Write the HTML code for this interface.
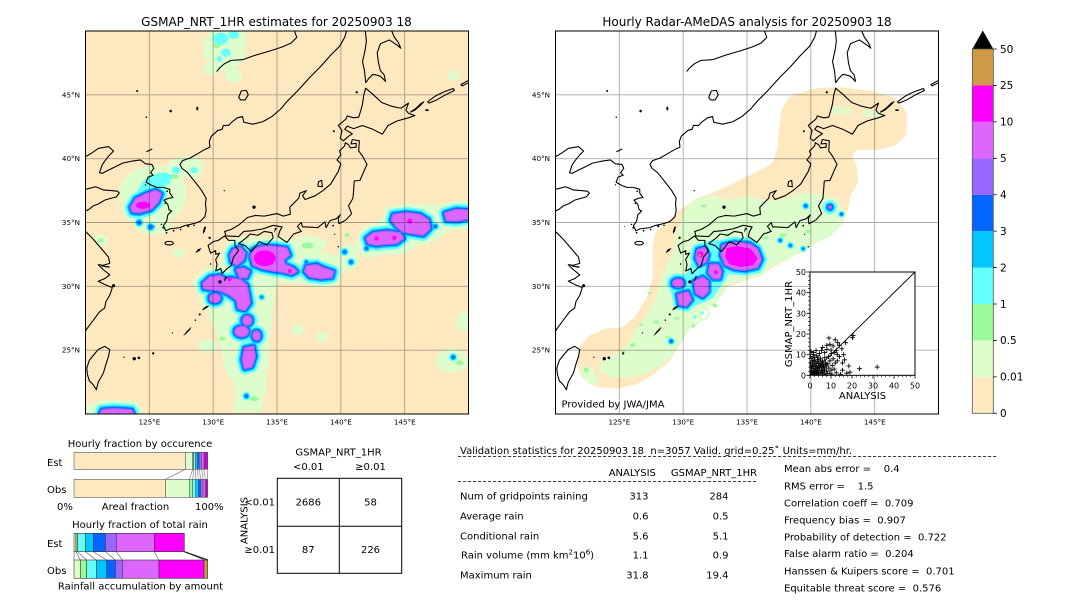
<!DOCTYPE html>
<html><head><meta charset="utf-8">
<style>
html,body{margin:0;padding:0;background:#fff;}
svg{display:block;}
text{font-family:"DejaVu Sans","Liberation Sans",sans-serif;fill:#000;}
.pre{white-space:pre;}
</style></head><body>
<svg width="1080" height="612" viewBox="0 0 1080 612" xmlns="http://www.w3.org/2000/svg">
<rect width="1080" height="612" fill="#fff"/>
<defs>
<marker id="pm" markerUnits="userSpaceOnUse" markerWidth="3" markerHeight="3" refX="1.5" refY="1.5" viewBox="0 0 3 3" overflow="visible"><path d="M0.35,1.5H2.65M1.5,0.35V2.65" stroke="#000" stroke-width="0.42" fill="none"/></marker>

<g id="coast" fill="none" stroke="#000" stroke-width="0.085" stroke-linejoin="round" stroke-linecap="round">
<path d="M120,-40.15L120.5,-40.45 121,-40.8 121.8,-40.95 122.2,-40.6 121.9,-40.3 121.5,-39.8 121.3,-39.5 121.1,-38.9 121.3,-38.85 121.7,-39.05 122.2,-39.3 122.9,-39.65 123.6,-39.8 124.3,-39.9 124.7,-39.6 125.2,-39.55 125.35,-39.25 125.1,-38.9 125.3,-38.7 124.9,-38.55 124.75,-38.15 125.2,-37.9 125.6,-37.75 126.1,-37.75 126.6,-37.6 126.6,-37.3 126.85,-36.95 126.5,-36.9 126.15,-36.75 126.45,-36.4 126.55,-36 126.75,-35.9 126.45,-35.6 126.35,-35.1 126.1,-34.75 126.3,-34.35 126.6,-34.5 127,-34.55 127.4,-34.6 127.75,-34.75 128.2,-34.85 128.6,-34.95 129,-35.1 129.35,-35.45 129.45,-35.95 129.4,-36.45 129.45,-36.9 129.1,-37.5 128.8,-37.9 128.4,-38.4 128,-38.9 127.55,-39.25 127.4,-39.55 127.6,-39.85 128.2,-40.05 128.8,-40.4 129.4,-40.75 129.75,-40.9 129.7,-41.35 129.85,-41.75 130.35,-42.2 130.7,-42.3 130.8,-42.6 131.2,-42.6 131.5,-42.9 131.9,-43.2 132.3,-43.3 132.4,-42.85 133.1,-42.7 133.9,-42.9 134.6,-43.3 135.3,-43.9 135.8,-44.5 136.6,-45.3 137.6,-46.4 138.4,-47.2 139.2,-48.1 139.9,-48.8 140.3,-49.5 140.5,-50.2"/>
<path d="M120,-34.3L120.6,-33.7 121.2,-33.0 121.8,-32.3 121.9,-31.8 121.4,-31.65 121.0,-31.7 121.4,-31.3 121.9,-30.9 121.5,-30.6 121.0,-30.4 121.6,-30.1 122.1,-29.9 121.9,-29.3 121.6,-28.8 121.5,-28.3 121.1,-28.0 120.8,-27.6 120.5,-27.2 120.2,-26.8 120,-26.5"/>
<path d="M120,-37.6L120.8,-37.8 121.4,-37.55 122.0,-37.5 122.5,-37.45 122.65,-37.3 122.4,-37.0 122.0,-36.9 121.5,-36.75 121.0,-36.45 120.6,-36.3 120.3,-36.05 120,-35.9"/>
<path d="M121.5,-25.3L121.9,-25.05 121.8,-24.5 121.6,-23.9 121.4,-23.2 121.0,-22.5 120.85,-21.9 120.6,-22.3 120.3,-22.6 120.15,-23.1 120.1,-23.6 120.3,-24.2 120.7,-24.7 121.0,-25.05Z"/>
<path d="M141.94,-45.52L142.5,-45.05 143.2,-44.4 144.0,-44.1 144.7,-43.95 145.3,-44.35 145.1,-43.8 145.3,-43.55 145.8,-43.38 145.3,-43.2 144.4,-42.95 143.7,-42.6 143.25,-41.92 142.5,-42.3 141.7,-42.6 141.0,-42.35 140.5,-42.55 140.3,-42.3 140.9,-41.95 140.6,-41.75 140.2,-41.4 139.95,-41.6 140.1,-42.2 139.8,-42.6 140.4,-43.1 140.5,-43.35 141.0,-43.2 141.4,-43.25 141.6,-43.9 141.7,-44.3 141.8,-45.0Z"/>
<path d="M140.9,-41.5L141.45,-41.4 141.4,-40.6 141.7,-40.2 142.05,-39.55 141.8,-39.0 141.5,-38.3 141.05,-38.25 141.0,-37.5 140.95,-36.9 140.6,-36.3 140.85,-35.7 140.4,-35.2 139.85,-34.9 139.8,-35.3 139.95,-35.6 139.65,-35.3 139.15,-35.15 138.85,-34.6 138.75,-35.05 138.2,-34.6 137.3,-34.65 137.0,-34.65 136.9,-35.0 136.6,-34.7 136.9,-34.3 136.3,-34.1 135.77,-33.44 135.1,-33.9 135.2,-34.3 135.4,-34.65 134.7,-34.78 133.9,-34.5 133.0,-34.35 132.4,-34.3 132.0,-33.9 131.0,-33.95 130.9,-34.3 131.4,-34.45 132.0,-34.8 132.7,-35.4 133.3,-35.55 134.0,-35.5 135.0,-35.7 135.5,-35.5 136.05,-35.65 136.0,-36.2 136.7,-36.9 136.8,-37.3 137.3,-37.5 137.0,-37.1 137.2,-36.8 138.0,-37.1 138.6,-37.5 139.2,-38.0 139.5,-38.5 139.8,-39.0 140.0,-39.6 139.7,-39.9 140.0,-40.3 139.9,-40.6 140.3,-41.0 140.35,-41.25 140.6,-41.1 140.75,-40.85 141.2,-40.9 141.2,-41.2 140.8,-41.15Z"/>
<path d="M134.6,-34.2L134.7,-33.8 134.2,-33.25 133.6,-33.5 133.0,-32.72 132.5,-33.2 132.0,-33.35 132.6,-33.8 132.9,-34.1 133.5,-34.0 134.0,-34.3Z"/>
<path d="M130.9,-33.95L131.2,-33.6 131.7,-33.6 131.7,-33.2 132.0,-32.8 131.6,-32.3 131.4,-31.6 131.1,-31.4 130.7,-31.0 130.6,-31.4 130.2,-31.2 130.3,-31.7 130.2,-32.1 130.5,-32.6 130.2,-32.5 130.2,-32.8 129.8,-32.6 129.6,-33.2 130.0,-33.5 130.4,-33.6Z"/>
<path d="M141.9,-50.2L142.0,-49.2 141.9,-48.5 141.7,-47.6 141.85,-46.9 141.95,-45.95 142.2,-46.3 142.5,-46.6 142.8,-46.55 143.1,-46.45 143.5,-46.05 143.4,-46.55 143.1,-46.9 142.95,-47.5 142.85,-48.3 143.1,-49.0 143.8,-49.3 144.4,-48.9 144.7,-48.65 144.5,-49.1 144.2,-49.5 143.9,-50.2"/>
<path d="M130.3,-46.85L130.5,-47.1 130.9,-47.45 131.4,-47.7 132.3,-47.75 133.3,-48.1 134.5,-48.45 135.4,-48.75 136.1,-49.05 136.55,-49.5 136.3,-50.2"/>
<path d="M145.45,-43.65L145.9,-43.95 146.25,-44.3 146.5,-44.45 146.2,-44.15 145.8,-43.8Z"/>
<path d="M146.8,-44.45L147.4,-44.9 148.0,-45.2 148.8,-45.5 148.9,-45.35 148.2,-45.0 147.5,-44.6 146.9,-44.35Z"/>
<path d="M149.4,-45.8L150.2,-46.25 150.2,-46.05 149.5,-45.7Z"/>
<path d="M138.2,-37.85L138.55,-37.8 138.5,-38.3 138.25,-38.2Z"/>
<path d="M132.0,-44.8L132.2,-45.3 132.6,-45.35 132.75,-45.0 132.5,-44.6 132.15,-44.6Z"/>
<ellipse cx="126.55" cy="-33.38" rx=".33" ry=".14"/>
<path d="M124.8,-40.55L125.2,-40.75"/>
<g fill="#000" stroke="none">
<path d="M129.2,-34.1L129.35,-34.3 129.45,-34.7 129.3,-34.65 129.2,-34.3Z"/>
<circle cx="129.72" cy="-33.8" r=".09"/>
<path d="M128.6,-32.6L128.9,-32.75 129.1,-33.0 128.8,-32.9Z"/>
<circle cx="133.2" cy="-36.2" r=".13"/>
<path d="M134.85,-34.6L135.0,-34.55 134.75,-34.2Z"/>
<circle cx="139.4" cy="-34.75" r=".07"/>
<circle cx="139.52" cy="-34.08" r=".05"/>
<circle cx="139.8" cy="-33.1" r=".06"/>
<circle cx="130.53" cy="-30.35" r=".13"/>
<path d="M130.9,-30.4L131.1,-30.8 130.95,-30.78 130.85,-30.45Z"/>
<path d="M129.15,-28.1L129.5,-28.3 129.7,-28.5 129.45,-28.45 129.2,-28.25Z"/>
<circle cx="128.95" cy="-27.8" r=".08"/>
<circle cx="128.6" cy="-27.35" r=".06"/>
<path d="M127.65,-26.1L127.9,-26.45 128.3,-26.85 128.2,-26.6 127.85,-26.25Z"/>
<circle cx="126.8" cy="-26.35" r=".05"/>
<circle cx="125.3" cy="-24.75" r=".09"/>
<circle cx="124.18" cy="-24.4" r=".1"/>
<circle cx="123.82" cy="-24.33" r=".13"/>
<circle cx="123.0" cy="-24.45" r=".05"/>
<circle cx="139.45" cy="-42.15" r=".08"/>
<circle cx="141.25" cy="-45.2" r=".09"/>
<circle cx="130.87" cy="-37.5" r=".05"/>
<ellipse cx="146.75" cy="-43.8" rx=".15" ry=".07"/>
<circle cx="129.8" cy="-31.75" r=".06"/>
<circle cx="126.1" cy="-34.6" r=".08"/><circle cx="125.95" cy="-34.85" r=".06"/><circle cx="126.35" cy="-34.2" r=".07"/><circle cx="126.9" cy="-34.35" r=".07"/><circle cx="127.45" cy="-34.45" r=".06"/><circle cx="128.05" cy="-34.7" r=".08"/><circle cx="128.5" cy="-34.78" r=".06"/><circle cx="126.25" cy="-36.5" r=".06"/><circle cx="126.4" cy="-37.45" r=".07"/><circle cx="124.7" cy="-37.95" r=".05"/><circle cx="125.4" cy="-34.7" r=".04"/>
<circle cx="122.2" cy="-30.05" r=".12"/>
<path d="M121.2,-31.65L121.9,-31.55 121.85,-31.45 121.3,-31.55Z"/>
<circle cx="124.05" cy="-45.3" r=".08"/><circle cx="126.67" cy="-43.73" r=".1"/><ellipse cx="128.76" cy="-43.93" rx=".08" ry=".15"/><circle cx="124.76" cy="-43.25" r=".06"/>
</g>
</g>

<path id="grid" d="M125,-50V-20M130,-50V-20M135,-50V-20M140,-50V-20M145,-50V-20M120,-45H150M120,-40H150M120,-35H150M120,-30H150M120,-25H150" fill="none" stroke="#000" stroke-opacity=".33" stroke-width=".07"/>

<g id="G1L">
<path d="M133.14,-32.85L133.79,-33.11 134.71,-33.11 135.75,-32.98 135.96,-32.46 135.49,-32.07 135.62,-31.68 136.27,-31.42 136.54,-31.16 136.14,-30.97 135.36,-31.16 134.71,-31.23 133.79,-31.42 133.14,-31.68 132.96,-32.33Z"/>
<path d="M131.57,-32.85L132.1,-33.04 132.49,-32.59 132.36,-32.07 131.84,-31.68 131.44,-31.94 131.37,-32.46Z"/>
<path d="M131.84,-31.29L132.36,-31.42 132.83,-31.16 132.62,-30.71 132.1,-30.71Z"/>
<path d="M137.32,-31.55L138.1,-31.68 138.62,-31.42 139.41,-31.16 139.28,-30.71 138.5,-30.63 137.58,-30.76 137.19,-31.16Z"/>
<path d="M142.02,-33.77L142.54,-34.16 143.58,-34.29 144.63,-34.16 144.89,-33.77 144.37,-33.38 143.32,-33.32 142.8,-33.25 142.15,-33.38Z"/>
<path d="M144.11,-35.6L145.15,-35.73 146.2,-35.6 146.85,-35.2 146.98,-34.55 146.46,-34.03 145.67,-34.16 144.89,-34.29 144.37,-34.68 143.98,-35.2Z"/>
<path d="M148.15,-35.73L149.07,-35.99 150.1,-35.93 150.1,-35.33 149.07,-35.15 148.28,-35.2Z"/>
<path d="M129.22,-30.24L129.75,-30.71 130.53,-30.82 131.05,-30.5 131.31,-30.63 132.1,-30.5 132.62,-30.11 132.75,-29.46 132.88,-28.68 132.49,-28.15 131.97,-28.28 131.84,-28.94 131.31,-29.33 130.79,-29.59 130.4,-29.72 129.75,-29.77 129.28,-29.85Z"/>
<ellipse cx="130.14" cy="-29.07" rx=".39" ry=".31"/>
<ellipse cx="132.67" cy="-27.32" rx=".33" ry=".33"/>
<ellipse cx="132.23" cy="-26.46" rx=".5" ry=".36"/>
<ellipse cx="133.4" cy="-26.14" rx=".26" ry=".33"/>
<path d="M132.49,-25.15L133.14,-25.28 133.27,-24.5 133.01,-23.72 132.49,-23.58 132.31,-24.24Z"/>
<path d="M123.56,-36.18L123.95,-36.84 124.74,-37.23 125.52,-37.49 125.91,-37.23 125.65,-36.58 125.13,-36.05 124.22,-35.79 123.69,-35.84Z"/>
<path d="M121.1,-19.8L121.3,-20.3 122.2,-20.38 123.6,-20.3 123.8,-19.8Z"/>
</g>
<g id="G2L">
<circle cx="124.2" cy="-35.0" r=".16"/><circle cx="125.1" cy="-34.65" r=".16"/><circle cx="140.3" cy="-32.7" r=".13"/><circle cx="140.8" cy="-31.9" r=".13"/><circle cx="137.3" cy="-31.9" r=".1"/><circle cx="148.8" cy="-24.45" r=".13"/><circle cx="132.6" cy="-21.4" r=".13"/><circle cx="133.8" cy="-29.15" r=".08"/><circle cx="147.4" cy="-34.7" r=".12"/><circle cx="142.02" cy="-32.98" r=".13"/>
</g>
<g id="G3L">
<path d="M124.1,-37.5L124.6,-38.3 125.4,-38.75 126.2,-38.9 126.8,-38.7 126.6,-38.1 125.9,-37.6 125.2,-37.2 124.4,-37.1Z"/>
<ellipse cx="127.1" cy="-39.1" rx=".3" ry=".25"/><ellipse cx="128.5" cy="-39.1" rx=".25" ry=".2"/>
<ellipse cx="130.6" cy="-49.4" rx=".55" ry=".45"/><ellipse cx="131.6" cy="-49.7" rx=".4" ry=".3"/><ellipse cx="131.0" cy="-48.3" rx=".35" ry=".3"/><ellipse cx="130.5" cy="-47.8" rx=".2" ry=".2"/>
<ellipse cx="144.8" cy="-34.6" rx="1.0" ry=".45"/>
<ellipse cx="122.2" cy="-20.0" rx="1.6" ry=".3"/>
</g>

<g id="G1R">
<path d="M131.15,-32.86L131.67,-32.99 131.94,-32.47 131.8,-31.95 131.28,-31.69 131.02,-32.21Z"/>
<path d="M132.12,-31.69L132.72,-31.69 132.98,-31.17 132.85,-30.64 132.33,-30.64 132.01,-31.11Z"/>
<path d="M133.1,-33.2L134.0,-33.4 135.2,-33.3 135.8,-32.9 136.1,-32.1 135.8,-31.5 134.8,-31.3 134.0,-31.4 133.3,-31.7 133.0,-32.4Z"/>
<ellipse cx="129.6" cy="-30.25" rx=".4" ry=".28"/>
<path d="M130.89,-30.38L131.54,-30.69 131.94,-30.38 131.94,-29.6 131.54,-29.2 131.02,-29.47Z"/>
<path d="M129.58,-29.33L130.37,-29.55 130.63,-28.94 130.24,-28.5 129.71,-28.6Z"/>
<circle cx="141.5" cy="-36.2" r=".08"/>
</g>
<g id="G2R">
<circle cx="139.6" cy="-36.3" r=".12"/><circle cx="142.4" cy="-35.65" r=".1"/><circle cx="137.6" cy="-33.6" r=".1"/><circle cx="138.4" cy="-33.2" r=".1"/><circle cx="139.4" cy="-32.95" r=".08"/><circle cx="129.06" cy="-25.7" r=".12"/>
</g>
<g id="G3R">
<path d="M129.0,-29.7L129.4,-30.7 130.3,-31.0 130.8,-32.0 130.9,-33.2 131.8,-33.5 133.0,-33.6 134.5,-33.6 135.5,-33.3 136.2,-32.6 136.2,-31.6 135.3,-31.15 133.6,-31.0 132.9,-30.0 132.3,-29.1 131.4,-28.7 130.4,-28.3 129.4,-28.6Z"/>
<circle cx="130.9" cy="-27.6" r=".1"/><circle cx="131.5" cy="-27.9" r=".1"/>
</g>
</defs>

<!-- ============ LEFT MAP ============ -->
<text x="276.5" y="26" text-anchor="middle" font-size="12">GSMAP_NRT_1HR estimates for 20250903 18</text>
<svg x="85.5" y="31" width="383" height="383" viewBox="120 -50 30 30" preserveAspectRatio="none">
<rect x="119" y="-51" width="32" height="32" fill="#fee8c0"/>
<g fill="#ddfdcd" stroke="#ddfdcd" stroke-width=".3" stroke-linejoin="round">
<ellipse cx="125.3" cy="-37.2" rx="2.5" ry="2.1"/>
<ellipse cx="127.9" cy="-39.4" rx="1.2" ry=".6"/>
<ellipse cx="125.3" cy="-34.7" rx="1.3" ry=".5"/>
<ellipse cx="121.2" cy="-33.6" rx=".4" ry=".3"/>
<ellipse cx="130.9" cy="-48.6" rx="1.5" ry="1.6"/>
<ellipse cx="131.6" cy="-46.5" rx=".5" ry=".4"/>
<ellipse cx="129.8" cy="-47.0" rx=".4" ry=".3"/>
<path d="M128.8,-30.6L129.6,-31.2 130.6,-31.5 131.2,-32.6 131.5,-33.5 132.5,-33.6 133.5,-33.7 134.8,-33.6 136,-33.4 136.8,-33.2 137.6,-32.8 138.6,-32.5 139.6,-32.2 140,-31.4 139.6,-30.3 138.2,-30.1 137,-30.3 136.2,-30.6 135.2,-30.6 134.6,-29.6 134.6,-28.9 134.4,-26.8 134.2,-24.5 134.0,-22.1 133.6,-20.3 131.8,-20.3 131.9,-22.1 131.0,-23.7 130.6,-25.8 129.9,-27.5 129.2,-28.9 128.7,-29.6Z"/>
<path d="M141.3,-33.3L141.8,-34.4 142.8,-34.8 143.6,-35.5 144.5,-36.1 146,-36.3 147.5,-36.2 149,-36.5 150.5,-36.6 150.5,-34.6 148.3,-34.5 147.4,-33.7 146,-33.4 145,-32.7 143.5,-32.6 142,-32.4Z"/>
<ellipse cx="140.6" cy="-32.3" rx=".7" ry=".9"/>
<ellipse cx="148.7" cy="-24.2" rx="1.1" ry=".8"/>
<ellipse cx="149.6" cy="-27.3" rx=".4" ry=".6"/>
<ellipse cx="122.2" cy="-20.2" rx="2.2" ry=".7"/>
<ellipse cx="137.5" cy="-33.3" rx="1.2" ry=".5"/>
<ellipse cx="129.6" cy="-25.3" rx=".6" ry=".4"/>
<ellipse cx="148.8" cy="-46.5" rx=".3" ry=".25"/>
<ellipse cx="136.6" cy="-26.6" rx=".3" ry=".25"/>
<ellipse cx="138.5" cy="-26" rx=".3" ry=".3"/>
<ellipse cx="127.3" cy="-32.6" rx=".3" ry=".2"/>
</g>
<use href="#G3L" fill="#ddfdcd" stroke="#ddfdcd" stroke-width="1.0" stroke-linejoin="round"/>
<use href="#G2L" fill="#ddfdcd" stroke="#ddfdcd" stroke-width=".6" stroke-linejoin="round"/>
<use href="#G1L" fill="#ddfdcd" stroke="#ddfdcd" stroke-width="1.5" stroke-linejoin="round"/>
<g fill="#99fb99">
<ellipse cx="137.4" cy="-33.2" rx=".45" ry=".25"/><ellipse cx="130.7" cy="-25.9" rx=".25" ry=".15"/><ellipse cx="133.2" cy="-21.2" rx=".3" ry=".2"/><ellipse cx="140.5" cy="-34.0" rx=".2" ry=".15"/><ellipse cx="127.0" cy="-38.6" rx=".3" ry=".2"/><ellipse cx="149.3" cy="-24" rx=".3" ry=".2"/><ellipse cx="121.2" cy="-33.6" rx=".2" ry=".15"/><ellipse cx="130.3" cy="-48.9" rx=".3" ry=".25"/>
</g>
<use href="#G3L" fill="#66ffff" stroke="#66ffff" stroke-width=".05"/>
<use href="#G2L" fill="#66ffff" stroke="#66ffff" stroke-width=".4" stroke-linejoin="round"/>
<use href="#G1L" fill="#66ffff" stroke="#66ffff" stroke-width=".95" stroke-linejoin="round"/>
<use href="#G2L" fill="#00c8ff" stroke="#00c8ff" stroke-width=".2"/>
<use href="#G1L" fill="#00c8ff" stroke="#00c8ff" stroke-width=".6" stroke-linejoin="round"/>
<use href="#G2L" fill="#0066ff"/>
<use href="#G1L" fill="#0066ff" stroke="#0066ff" stroke-width=".38" stroke-linejoin="round"/>
<use href="#G1L" fill="#9966ff" stroke="#9966ff" stroke-width=".2" stroke-linejoin="round"/>
<use href="#G1L" fill="#dd66ff"/>
<g fill="#ff00ff">
<ellipse cx="134.05" cy="-32.2" rx=".85" ry=".62"/>
<circle cx="136.0" cy="-31.2" r=".15"/>
<ellipse cx="124.5" cy="-36.35" rx=".55" ry=".28"/>
<circle cx="142.8" cy="-33.75" r=".17"/><circle cx="144.2" cy="-33.8" r=".17"/><circle cx="145.4" cy="-35.1" r=".2"/>
<circle cx="131.3" cy="-30.55" r=".15"/>
</g>
<use href="#coast"/>
<use href="#grid"/>
</svg>
<rect x="85.5" y="31" width="383" height="383" fill="none" stroke="#000" stroke-width="1"/>
<g font-size="7.2" text-anchor="end">
<text x="80" y="97.4">45°N</text><text x="80" y="161.2">40°N</text><text x="80" y="225">35°N</text><text x="80" y="288.9">30°N</text><text x="80" y="352.7">25°N</text>
</g>
<g font-size="7.2" text-anchor="middle">
<text x="149.4" y="424.5">125°E</text><text x="213.2" y="424.5">130°E</text><text x="277" y="424.5">135°E</text><text x="340.9" y="424.5">140°E</text><text x="404.8" y="424.5">145°E</text>
</g>

<!-- ============ RIGHT MAP ============ -->
<text x="747" y="26" text-anchor="middle" font-size="12">Hourly Radar-AMeDAS analysis for 20250903 18</text>
<svg x="555.5" y="31" width="383" height="383" viewBox="120 -50 30 30" preserveAspectRatio="none">
<rect x="119" y="-51" width="32" height="32" fill="#fff"/>
<path fill="#fee8c0" stroke="#fee8c0" stroke-width=".4" stroke-linejoin="round" d="M138.9,-44.9L140.7,-45.35 142.5,-45.4 144.7,-45.1 146.5,-44.6 147.3,-43.6 147.3,-42.0 146.5,-41.2 145.4,-40.9 143.4,-40.85 143.0,-40.2 143.4,-39.3 143.5,-38.2 142.9,-37.2 142.7,-36.0 142.3,-35.0 141.3,-34.0 140.3,-33.6 139.5,-33.0 138.5,-32.5 137.2,-31.8 136.2,-31.2 134.7,-30.6 133.2,-30.1 132.2,-29.0 131.2,-27.9 130.5,-27.0 129.7,-25.7 129.2,-24.9 128.6,-24.1 127.6,-23.3 126.3,-22.5 124.8,-22.2 123.3,-22.3 122.2,-23.0 121.9,-23.9 122.1,-25.2 122.8,-26.0 124.0,-26.5 125.3,-26.6 126.3,-27.4 127.3,-29.0 127.8,-30.5 127.8,-33.0 128.0,-34.1 128.9,-34.9 129.6,-35.6 130.6,-36.3 131.3,-36.8 132.3,-37.1 133.8,-37.8 135.2,-38.5 136.3,-39.0 137.2,-39.6 137.6,-40.8 137.7,-42.3 137.9,-43.8 138.4,-44.6Z"/>
<g fill="#ddfdcd" stroke="#ddfdcd" stroke-width=".3" stroke-linejoin="round">
<path d="M130.2,-35.8L131.0,-36.7 132.2,-37.0 133.6,-36.6 135.0,-36.9 136.2,-36.6 137.5,-36.6 138.8,-37.0 140.0,-37.2 141.0,-37.0 141.8,-36.6 142.5,-35.7 142.3,-35.0 141.5,-34.1 140.5,-33.6 139.5,-33.0 138.6,-32.5 137.3,-31.9 136.2,-31.3 134.8,-30.7 133.3,-30.2 132.4,-29.2 131.4,-28.1 130.6,-27.1 129.8,-25.8 129.1,-24.8 128.3,-24.0 127.2,-23.4 125.8,-23.0 124.5,-23.0 123.5,-23.6 124.2,-24.3 125.2,-24.8 125.9,-25.6 126.4,-26.5 127.2,-27.5 127.9,-28.8 128.3,-30.2 128.8,-31.5 129.4,-32.6 129.6,-33.6 129.8,-34.6Z"/>
<ellipse cx="122.5" cy="-23.2" rx=".4" ry=".35"/><ellipse cx="122.9" cy="-22.7" rx=".3" ry=".25"/>
<ellipse cx="142.0" cy="-43.8" rx=".25" ry=".18"/><ellipse cx="142.8" cy="-43.7" rx=".2" ry=".15"/><ellipse cx="144.5" cy="-43.55" rx=".25" ry=".18"/><ellipse cx="145.3" cy="-43.4" rx=".2" ry=".15"/>
</g>
<use href="#G3R" fill="#ddfdcd" stroke="#ddfdcd" stroke-width="1.0" stroke-linejoin="round"/>
<use href="#G2R" fill="#ddfdcd" stroke="#ddfdcd" stroke-width=".5"/>
<use href="#G1R" fill="#ddfdcd" stroke="#ddfdcd" stroke-width="1.5" stroke-linejoin="round"/>
<g fill="#99fb99">
<ellipse cx="126.05" cy="-25.4" rx=".2" ry=".15"/><ellipse cx="126.7" cy="-27.0" rx=".15" ry=".1"/><ellipse cx="127.4" cy="-29.5" rx=".15" ry=".1"/><ellipse cx="125.3" cy="-24.9" rx=".15" ry=".1"/><ellipse cx="122.4" cy="-23.45" rx=".2" ry=".2"/><ellipse cx="127.9" cy="-27.2" rx=".2" ry=".15"/><ellipse cx="129.5" cy="-27.5" rx=".2" ry=".1"/><ellipse cx="130.8" cy="-26.9" rx=".15" ry=".15"/><ellipse cx="128.8" cy="-26.0" rx=".2" ry=".1"/><ellipse cx="137.8" cy="-34.0" rx=".25" ry=".15"/><ellipse cx="139.8" cy="-34.3" rx=".2" ry=".15"/><ellipse cx="136.5" cy="-33.8" rx=".2" ry=".1"/><ellipse cx="133.4" cy="-34.0" rx=".2" ry=".15"/><ellipse cx="131.6" cy="-36.3" rx=".2" ry=".12"/><ellipse cx="132.5" cy="-28.5" rx=".2" ry=".15"/>
</g>
<use href="#G3R" fill="#66ffff" stroke="#66ffff" stroke-width=".05"/>
<use href="#G2R" fill="#66ffff" stroke="#66ffff" stroke-width=".35"/>
<use href="#G1R" fill="#66ffff" stroke="#66ffff" stroke-width=".95" stroke-linejoin="round"/>
<use href="#G2R" fill="#00c8ff" stroke="#00c8ff" stroke-width=".18"/>
<use href="#G1R" fill="#00c8ff" stroke="#00c8ff" stroke-width=".6" stroke-linejoin="round"/>
<use href="#G2R" fill="#0066ff"/>
<use href="#G1R" fill="#0066ff" stroke="#0066ff" stroke-width=".38" stroke-linejoin="round"/>
<use href="#G1R" fill="#9966ff" stroke="#9966ff" stroke-width=".2" stroke-linejoin="round"/>
<use href="#G1R" fill="#dd66ff"/>
<g fill="#ff00ff">
<path d="M133.4,-33.0L134.2,-33.15 135.3,-32.95 135.85,-32.2 135.5,-31.65 134.5,-31.5 133.6,-31.75 133.3,-32.3Z"/>
<circle cx="131.35" cy="-32.5" r=".25"/><circle cx="132.55" cy="-31.1" r=".15"/>
</g>
<circle cx="131.3" cy="-32.42" r=".1" fill="#cf9a46"/>
<use href="#coast"/>
<use href="#grid"/>
</svg>
<rect x="555.5" y="31" width="383" height="383" fill="none" stroke="#000" stroke-width="1"/>
<text x="561.5" y="407.5" font-size="10">Provided by JWA/JMA</text>
<g font-size="7.2" text-anchor="end">
<text x="550" y="97.4">45°N</text><text x="550" y="161.2">40°N</text><text x="550" y="225">35°N</text><text x="550" y="288.9">30°N</text><text x="550" y="352.7">25°N</text>
</g>
<g font-size="7.2" text-anchor="middle">
<text x="619.4" y="424.5">125°E</text><text x="683.2" y="424.5">130°E</text><text x="747" y="424.5">135°E</text><text x="810.9" y="424.5">140°E</text><text x="874.8" y="424.5">145°E</text>
</g>

<!-- scatter inset -->
<rect x="810" y="272" width="105" height="103.3" fill="#fff"/>
<svg x="810" y="272" width="105" height="103.3" viewBox="0 -50 50 50" preserveAspectRatio="none">
<path d="M0,0L50,-50" stroke="#000" stroke-width=".45" fill="none"/>
<polyline fill="none" stroke="none" marker-start="url(#pm)" marker-mid="url(#pm)" marker-end="url(#pm)" points="0.5,-0.5 1,-1.5 1.5,-0.8 2,-2 2.5,-1 3,-3 0.8,-3.5 1.2,-4.5 2,-5 3,-4 3.5,-2 4,-1 4.5,-3.5 5,-5 5.5,-2.5 6,-1.5 6.5,-4 7,-3 7.5,-6 8,-2 0.3,-6 1,-7 2.5,-6.5 3.5,-7.5 4,-6 5,-8 6,-7 7,-8.5 2,-8.5 1.5,-10 3,-9.5 4.5,-10.5 0.6,-2.5 1.8,-3.2 2.8,-0.4 3.8,-0.6 4.2,-2.2 5.2,-1.2 5.8,-3.8 6.8,-2.2 7.8,-4.5 8.5,-5.5 9,-3.5 9.5,-7 10,-2.5 8.8,-9 0.2,-1.2 0.4,-4.8 1.4,-5.8 2.2,-7.4 3.2,-5.6 4.8,-6.8 5.6,-6 6.2,-5.2 7.2,-5.2 0.9,-8.2 2.6,-4.2 3.6,-3.2 4.4,-4.6 5.4,-4.2 1.1,-0.2 2.3,-1.6 3.3,-1.4 6.6,-0.6 8.2,-1 9.4,-0.8 10.6,-4.8 11.5,-3 12,-6 11,-8 10.2,-10.5 12.5,-1.2 0.2,-9 1.7,-11 0.5,-11.5 3.8,-8.8 2.9,-12 9,-18 12,-17.2 13.2,-15.8 11,-14.2 14,-14.5 15.2,-12.8 17,-15.8 20.2,-18.2 20.5,-19.3 23.6,-3.2 32,-4 15.5,-6 13,-10 10,-12.2 8,-12.5 7,-11 6,-13.5 14,-9 16,-10 13,-7 15.5,-2.5 17.5,-1 19,-1.5 12.5,-12 9.5,-15 11.8,-11 16.5,-7.5 18.5,-4.5 8,-14.5 5.5,-12 14.5,-0.5 10.5,-0.3 7.5,-0.2"/>
</svg>
<rect x="810" y="272" width="105" height="103.3" fill="none" stroke="#000" stroke-width="1"/>
<path d="M810,375.3v3.5M831,375.3v3.5M852,375.3v3.5M873,375.3v3.5M894,375.3v3.5M915,375.3v3.5M810,375.3h-3.5M810,354.6h-3.5M810,334h-3.5M810,313.3h-3.5M810,292.7h-3.5M810,272h-3.5" stroke="#000" stroke-width=".8" fill="none"/>
<path d="M814.2,375.3v2M818.4,375.3v2M822.6,375.3v2M826.8,375.3v2M835.2,375.3v2M839.4,375.3v2M843.6,375.3v2M847.8,375.3v2M856.2,375.3v2M860.4,375.3v2M864.6,375.3v2M868.8,375.3v2M877.2,375.3v2M881.4,375.3v2M885.6,375.3v2M889.8,375.3v2M898.2,375.3v2M902.4,375.3v2M906.6,375.3v2M910.8,375.3v2M810,371.2h-2M810,367h-2M810,362.9h-2M810,358.7h-2M810,350.5h-2M810,346.3h-2M810,342.2h-2M810,338.1h-2M810,329.9h-2M810,325.7h-2M810,321.6h-2M810,317.4h-2M810,309.2h-2M810,305h-2M810,300.9h-2M810,296.8h-2M810,288.6h-2M810,284.4h-2M810,280.3h-2M810,276.1h-2" stroke="#000" stroke-width=".6" fill="none"/>
<g font-size="8" text-anchor="middle">
<text x="810" y="388.5">0</text><text x="831" y="388.5">10</text><text x="852" y="388.5">20</text><text x="873" y="388.5">30</text><text x="894" y="388.5">40</text><text x="915" y="388.5">50</text>
</g>
<g font-size="8" text-anchor="end">
<text x="806" y="378.3">0</text><text x="806" y="357.6">10</text><text x="806" y="337">20</text><text x="806" y="316.3">30</text><text x="806" y="295.7">40</text><text x="806" y="275">50</text>
</g>
<text x="862.5" y="399" font-size="10" text-anchor="middle">ANALYSIS</text>
<text transform="translate(792,324) rotate(-90)" font-size="10" text-anchor="middle">GSMAP_NRT_1HR</text>

<!-- ============ COLORBAR ============ -->
<g stroke="none">
<rect x="972.3" y="376.87" width="21" height="36.43" fill="#fee8c0"/>
<rect x="972.3" y="340.44" width="21" height="36.43" fill="#ddfdcd"/>
<rect x="972.3" y="304.01" width="21" height="36.43" fill="#99fb99"/>
<rect x="972.3" y="267.58" width="21" height="36.43" fill="#66ffff"/>
<rect x="972.3" y="231.15" width="21" height="36.43" fill="#00c8ff"/>
<rect x="972.3" y="194.72" width="21" height="36.43" fill="#0066ff"/>
<rect x="972.3" y="158.29" width="21" height="36.43" fill="#9966ff"/>
<rect x="972.3" y="121.86" width="21" height="36.43" fill="#dd66ff"/>
<rect x="972.3" y="85.43" width="21" height="36.43" fill="#ff00ff"/>
<rect x="972.3" y="49" width="21" height="36.43" fill="#cf9a46"/>
</g>
<polygon points="972.3,49 993.3,49 982.8,30.5" fill="#000"/>
<rect x="972.3" y="49" width="21" height="364.3" fill="none" stroke="#555" stroke-width=".8"/>
<path d="M993.3,413.3h3.5M993.3,376.87h3.5M993.3,340.44h3.5M993.3,304.01h3.5M993.3,267.58h3.5M993.3,231.15h3.5M993.3,194.72h3.5M993.3,158.29h3.5M993.3,121.86h3.5M993.3,85.43h3.5M993.3,49h3.5" stroke="#000" stroke-width=".8"/>
<g font-size="10.5">
<text x="1000" y="417.1">0</text><text x="1000" y="380.7">0.01</text><text x="1000" y="344.2">0.5</text><text x="1000" y="307.8">1</text><text x="1000" y="271.4">2</text><text x="1000" y="235">3</text><text x="1000" y="198.5">4</text><text x="1000" y="162.1">5</text><text x="1000" y="125.7">10</text><text x="1000" y="89.2">25</text><text x="1000" y="52.8">50</text>
</g>

<!-- ============ BOTTOM LEFT FRACTION BARS ============ -->
<text x="140" y="447" text-anchor="middle" font-size="10">Hourly fraction by occurence</text>
<text x="47" y="466" font-size="10">Est</text>
<text x="47" y="493" font-size="10">Obs</text>
<text x="57" y="510" font-size="10">0%</text>
<text x="135.5" y="510" text-anchor="middle" font-size="10">Areal fraction</text>
<text x="195" y="510" font-size="10">100%</text>
<g stroke="#555" stroke-width=".6">
<rect x="74" y="452.3" width="111.3" height="17" fill="#fee8c0"/>
<rect x="185.3" y="452.3" width="7.4" height="17" fill="#ddfdcd"/>
<rect x="192.7" y="452.3" width="1" height="17" fill="#99fb99"/>
<rect x="193.7" y="452.3" width="1.6" height="17" fill="#66ffff"/>
<rect x="195.3" y="452.3" width="2" height="17" fill="#00c8ff"/>
<rect x="197.3" y="452.3" width="2" height="17" fill="#0066ff"/>
<rect x="199.3" y="452.3" width="2.4" height="17" fill="#9966ff"/>
<rect x="201.7" y="452.3" width="2.3" height="17" fill="#dd66ff"/>
<rect x="204" y="452.3" width="3.7" height="17" fill="#cc00cc"/>
<rect x="74" y="479.3" width="91.7" height="18" fill="#fee8c0"/>
<rect x="165.7" y="479.3" width="23.6" height="18" fill="#ddfdcd"/>
<rect x="189.3" y="479.3" width="3.4" height="18" fill="#99fb99"/>
<rect x="192.7" y="479.3" width="3" height="18" fill="#66ffff"/>
<rect x="195.7" y="479.3" width="2.6" height="18" fill="#00c8ff"/>
<rect x="198.3" y="479.3" width="2.4" height="18" fill="#0066ff"/>
<rect x="200.7" y="479.3" width="2.3" height="18" fill="#9966ff"/>
<rect x="203" y="479.3" width="2.3" height="18" fill="#dd66ff"/>
<rect x="205.3" y="479.3" width="2.4" height="18" fill="#cc00cc"/>
</g>
<path d="M185.3,469.3L165.7,479.3M192.7,469.3L189.3,479.3M193.7,469.3L192.7,479.3M195.3,469.3L195.7,479.3M197.3,469.3L198.3,479.3M199.3,469.3L200.7,479.3M201.7,469.3L203,479.3M204,469.3L205.3,479.3M207.7,469.3L207.7,479.3" stroke="#777" stroke-width=".6" fill="none"/>

<text x="140" y="528" text-anchor="middle" font-size="10">Hourly fraction of total rain</text>
<text x="47" y="547" font-size="10">Est</text>
<text x="47" y="574" font-size="10">Obs</text>
<text x="140.5" y="589.5" text-anchor="middle" font-size="10">Rainfall accumulation by amount</text>
<g stroke="#333" stroke-width=".6">
<rect x="74" y="533.3" width="2" height="18.4" fill="#ddfdcd"/>
<rect x="76" y="533.3" width="1.7" height="18.4" fill="#99fb99"/>
<rect x="77.7" y="533.3" width="7.6" height="18.4" fill="#66ffff"/>
<rect x="85.3" y="533.3" width="8" height="18.4" fill="#00c8ff"/>
<rect x="93.3" y="533.3" width="12" height="18.4" fill="#0066ff"/>
<rect x="105.3" y="533.3" width="11" height="18.4" fill="#9966ff"/>
<rect x="116.3" y="533.3" width="38" height="18.4" fill="#dd66ff"/>
<rect x="154.3" y="533.3" width="30" height="18.4" fill="#ff00ff"/>
<rect x="74" y="560" width="6.3" height="18.3" fill="#ddfdcd"/>
<rect x="80.3" y="560" width="6.4" height="18.3" fill="#99fb99"/>
<rect x="86.7" y="560" width="9.6" height="18.3" fill="#66ffff"/>
<rect x="96.3" y="560" width="10.4" height="18.3" fill="#00c8ff"/>
<rect x="106.7" y="560" width="8.6" height="18.3" fill="#0066ff"/>
<rect x="115.3" y="560" width="7" height="18.3" fill="#9966ff"/>
<rect x="122.3" y="560" width="36.7" height="18.3" fill="#dd66ff"/>
<rect x="159" y="560" width="45" height="18.3" fill="#ff00ff"/>
<rect x="204" y="560" width="3.7" height="18.3" fill="#cf9a46"/>
</g>
<path d="M74,551.7L74,560M76,551.7L80.3,560M77.7,551.7L86.7,560M85.3,551.7L96.3,560M93.3,551.7L106.7,560M105.3,551.7L115.3,560M116.3,551.7L122.3,560M154.3,551.7L159,560M184.3,551.7L204,560" stroke="#555" stroke-width=".6" fill="none"/>
<path d="M184.3,551.7L207.7,560" stroke="#222" stroke-width="1.2" fill="none"/>

<!-- ============ CONTINGENCY TABLE ============ -->
<text x="338.5" y="455.5" text-anchor="middle" font-size="10">GSMAP_NRT_1HR</text>
<text x="308.3" y="469.8" text-anchor="middle" font-size="10">&lt;0.01</text>
<text x="370.5" y="469.8" text-anchor="middle" font-size="10">≥0.01</text>
<rect x="277.3" y="478.3" width="124.4" height="95" fill="none" stroke="#000" stroke-width="1"/>
<path d="M339.3,478.3V573.3M277.3,526.3H401.7" stroke="#000" stroke-width="1"/>
<text x="308.3" y="505.5" text-anchor="middle" font-size="10">2686</text>
<text x="370.5" y="505.5" text-anchor="middle" font-size="10">58</text>
<text x="308.3" y="553" text-anchor="middle" font-size="10">87</text>
<text x="370.5" y="553" text-anchor="middle" font-size="10">226</text>
<text transform="translate(247.5,520.5) rotate(-90)" text-anchor="middle" font-size="10">ANALYSIS</text>
<text x="275" y="505.5" text-anchor="end" font-size="10">&lt;0.01</text>
<text x="275" y="553" text-anchor="end" font-size="10">≥0.01</text>

<!-- ============ STATS ============ -->
<text x="460" y="453.8" font-size="10" class="pre">Validation statistics for 20250903 18  n=3057 Valid. grid=0.25˚ Units=mm/hr.</text>
<path d="M458,456.5H997" stroke="#000" stroke-width=".8" stroke-dasharray="3.2,1.8"/>
<text x="632.3" y="476" font-size="10" text-anchor="middle">ANALYSIS</text>
<text x="714" y="476" font-size="10" text-anchor="middle">GSMAP_NRT_1HR</text>
<path d="M458,481.5H757" stroke="#000" stroke-width=".8" stroke-dasharray="3.2,1.8"/>
<g font-size="10">
<text x="460" y="499.6">Num of gridpoints raining</text>
<text x="460" y="519.6">Average rain</text>
<text x="460" y="539.3">Conditional rain</text>
<text x="461" y="558.6">Rain volume (mm km<tspan font-size="7" dy="-4">2</tspan><tspan dy="4">10</tspan><tspan font-size="7" dy="-4">6</tspan><tspan dy="4">)</tspan></text>
<text x="460" y="578.6">Maximum rain</text>
</g>
<g font-size="10" text-anchor="end">
<text x="648.5" y="499.6">313</text><text x="648.5" y="519.6">0.6</text><text x="648.5" y="539.3">5.6</text><text x="648.5" y="558.6">1.1</text><text x="648.5" y="578.6">31.8</text>
<text x="728.5" y="499.6">284</text><text x="728.5" y="519.6">0.5</text><text x="728.5" y="539.3">5.1</text><text x="728.5" y="558.6">0.9</text><text x="728.5" y="578.6">19.4</text>
</g>
<g font-size="10" class="pre">
<text x="784" y="472" class="pre">Mean abs error =    0.4</text>
<text x="784" y="489.3" class="pre">RMS error =    1.5</text>
<text x="784" y="506.3" class="pre">Correlation coeff =  0.709</text>
<text x="784" y="523.6" class="pre">Frequency bias =  0.907</text>
<text x="784" y="540.3" class="pre">Probability of detection =  0.722</text>
<text x="784" y="557" class="pre">False alarm ratio =  0.204</text>
<text x="784" y="574.3" class="pre">Hanssen &amp; Kuipers score =  0.701</text>
<text x="784" y="591.3" class="pre">Equitable threat score =  0.576</text>
</g>
</svg>
</body></html>
